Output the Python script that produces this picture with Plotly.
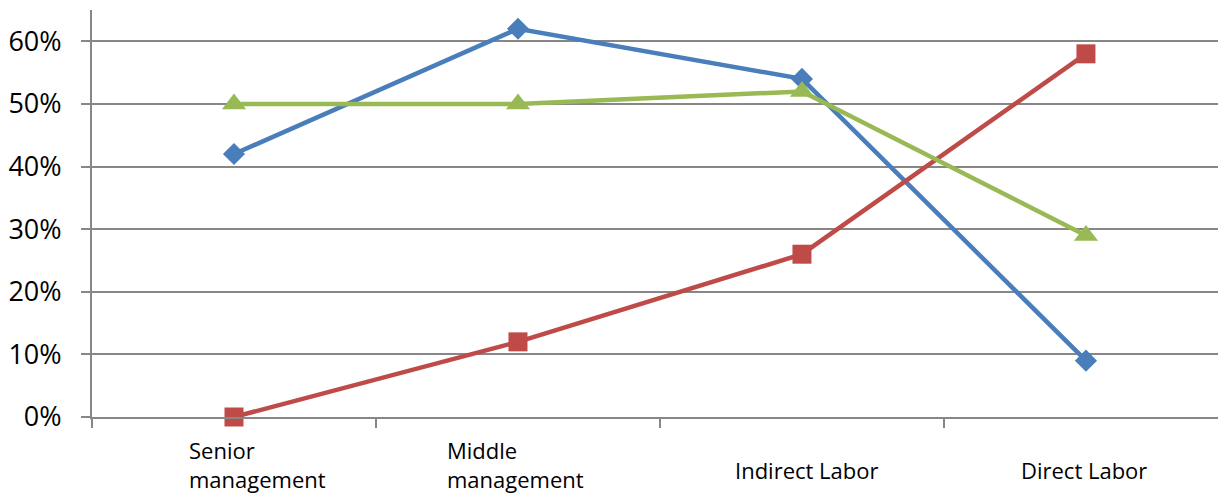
import plotly.graph_objects as go

categories = ["Senior management", "Middle management", "Indirect Labor", "Direct Labor"]
label_lines = [["Senior", "management"], ["Middle", "management"], ["Indirect Labor"], ["Direct Labor"]]
series_blue = [0.42, 0.62, 0.54, 0.09]
series_red = [0.00, 0.12, 0.26, 0.58]
series_green = [0.50, 0.50, 0.52, 0.29]
y_ticks = [0, 0.1, 0.2, 0.3, 0.4, 0.5, 0.6]

BLUE = "#4A7EBB"
RED = "#BE4B48"
GREEN = "#98B954"
GRID = "#878787"
FONT = "Open Sans"

fig = go.Figure()
fig.add_trace(go.Scatter(x=categories, y=series_blue, mode="lines+markers",
                         line=dict(color=BLUE, width=4.5), cliponaxis=False,
                         marker=dict(symbol="diamond", size=17, color=BLUE)))
fig.add_trace(go.Scatter(x=categories, y=series_red, mode="lines+markers",
                         line=dict(color=RED, width=4.5), cliponaxis=False,
                         marker=dict(symbol="square", size=19, color=RED)))
fig.add_trace(go.Scatter(x=categories, y=series_green, mode="lines+markers",
                         line=dict(color=GREEN, width=4.5), cliponaxis=False,
                         marker=dict(symbol="triangle-up", size=21, color=GREEN)))

# category labels below axis
shifts = [(-47, "left"), (-73, "left"), (5, "center"), (-2, "center")]
for cat, lines, (dx, anchor) in zip(categories, label_lines, shifts):
    one = len(lines) == 1
    fig.add_annotation(x=cat, xref="x", y=0, yref="paper",
                       text="<br>".join(lines), showarrow=False,
                       xanchor=anchor, yanchor="top", align="left",
                       xshift=dx, yshift=-36 if one else -16,
                       font=dict(family=FONT, size=22, color="#000000"))

fig.update_layout(
    width=1218, height=494,
    margin=dict(l=92, r=0, t=10, b=77, autoexpand=False),
    paper_bgcolor="white", plot_bgcolor="white",
    showlegend=False,
    font=dict(family=FONT, color="#000000"),
)
fig.update_xaxes(
    type="category", range=[-0.5, 3.465], automargin=False,
    showticklabels=False, showgrid=False,
    showline=True, linecolor=GRID, linewidth=2,
    ticks="outside", tickson="boundaries", ticklen=9, tickcolor=GRID, tickwidth=2,
    zeroline=False,
)
fig.update_yaxes(
    range=[0, 0.65], tickvals=y_ticks, tickformat=".0%", automargin=False,
    showgrid=True, gridcolor=GRID, gridwidth=2,
    showline=True, linecolor=GRID, linewidth=2,
    ticks="outside", ticklen=9, tickcolor=GRID, tickwidth=2,
    ticklabelstandoff=14,
    tickfont=dict(family=FONT, size=27, color="#000000"),
    zeroline=False,
)

fig.write_html("out.html", config={"displayModeBar": False},
               post_script="document.body.style.margin='0';document.body.style.overflow='hidden';")
